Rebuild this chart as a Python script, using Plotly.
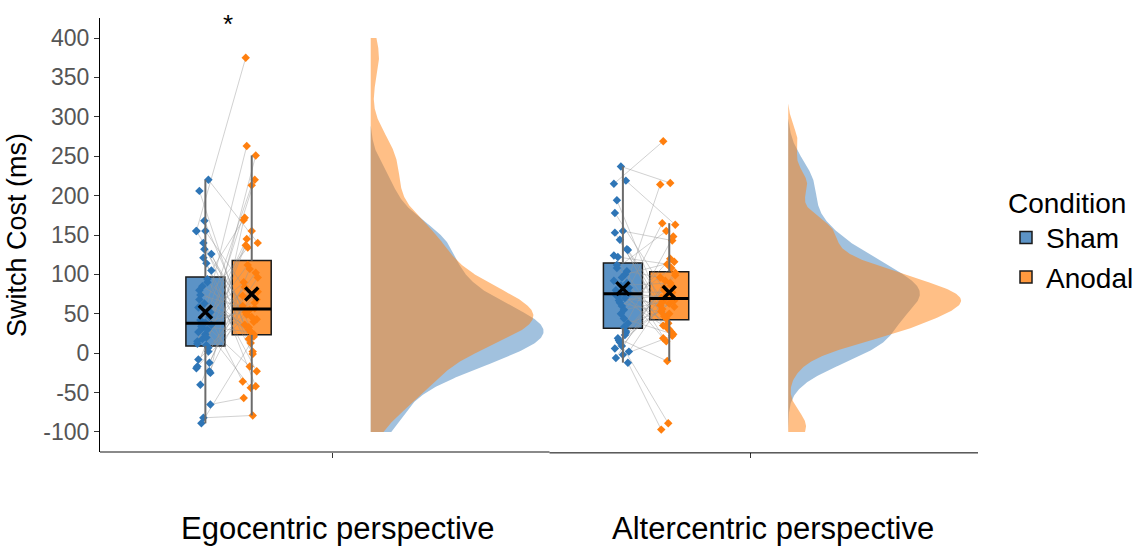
import numpy as np
import plotly.graph_objects as go

# ---------------- data (ms) ----------------
perspectives = ["Egocentric perspective", "Altercentric perspective"]
conditions = ["Sham", "Anodal"]

# participant order: index i of sham is paired with index i of anodal
ego_sham = [155, -82, -65, -89, 220, 206, 10, 12, 168, 105, 32, 46, -40, 94, 58, 24,
            155, 140, -25, 37, 2, 80, 114, 15, 63, 126, 18, -23, 42, 90, 27, 155,
            -19, 121, 52, 34, 7, 68, 20, -17, 132, 36, 85, -12, 74, 30, -8, 39]
ego_anodal = [375, -79, -57, 13, 140, 18, 251, 263, 21, 172, 213, -36, 107, -23, 134, 220,
              52, 2, 169, -44, 96, 30, -42, 145, 24, 36, 155, 60, -17, 43, 112, 64,
              137, -1, 90, 27, 78, 33, 102, 49, 40, 84, 46, 73, 55, 68, 54, 57]
alt_sham = [215, 237, -12, 16, 219, 194, 33, 178, 60, 2, 144, 89, 122, 70, -6, 155,
            92, 50, 131, 75, 26, 108, 44, 153, 9, 83, 64, 132, 19, 100, 74, -2,
            124, 86, 38, 67, 28, 112, 55, 6, 96, 76, 14, 104, 72, 23, 80, 78]
alt_anodal = [269, 216, -97, -89, 163, 44, 148, 80, 108, 65, 30, 214, 113, 59, 92, 143,
              19, 120, 70, 38, 99, 155, 24, 47, 86, 165, 50, 61, -10, 116, 72, 22,
              35, 89, 53, 74, 102, 15, 68, 83, 27, 56, 63, 96, 32, 67, 69, 77]

y_ticks = [-100, -50, 0, 50, 100, 150, 200, 250, 300, 350, 400]
significance = "*"

# ---------------- styling ----------------
X0, X1 = 0.4426, 2.5455              # x-axis range
PLOT_W = 878                          # plot-area width in px
PX = (X1 - X0) / PLOT_W               # x-units per pixel
centers = [1.0, 2.0]
off = {"Sham": -0.305, "Anodal": -0.194}
dens_off = 0.091
box_w = 0.0933
pt_col = {"Sham": "#2e75b6", "Anodal": "#ff7f0e"}
box_fill = {"Sham": "rgba(46,117,182,0.78)", "Anodal": "rgba(255,127,14,0.80)"}
dens_fill = {"Sham": "rgba(46,117,182,0.45)", "Anodal": "rgba(255,127,14,0.50)"}
FONT = "Liberation Sans, Arial, sans-serif"

data = {
    perspectives[0]: {"Sham": ego_sham, "Anodal": ego_anodal},
    perspectives[1]: {"Sham": alt_sham, "Anodal": alt_anodal},
}

grid = np.linspace(-100, 400, 501)


def kde(v):
    v = np.asarray(v, float)
    n = len(v)
    q1, q3 = np.percentile(v, [25, 75])
    h = 0.9 * min(v.std(ddof=1), (q3 - q1) / 1.34) * n ** (-0.2)
    z = (grid[:, None] - v[None, :]) / h
    return np.exp(-0.5 * z ** 2).sum(axis=1) / (n * h * np.sqrt(2 * np.pi))


fig = go.Figure()

for pi, p in enumerate(perspectives):
    cx = centers[pi]
    base = cx + dens_off
    dens = {c: kde(data[p][c]) for c in conditions}
    dmax = max(d.max() for d in dens.values())
    S = 0.414 / dmax                       # panel-wise width scaling
    # half densities
    for c in conditions:
        d = np.where(dens[c] >= 0.004 * dmax, dens[c], 0.0) * S
        xs = np.concatenate([[base], base + d, [base]])
        ys = np.concatenate([[grid[0]], grid, [grid[-1]]])
        fig.add_trace(go.Scatter(x=xs, y=ys, mode="lines", fill="toself",
                                 fillcolor=dens_fill[c], line=dict(width=0),
                                 showlegend=False, hoverinfo="skip"))
    # jittered positions
    pos = {}
    for c in conditions:
        n = len(data[p][c])
        jit = np.array([((i * 7 + (3 if c == "Anodal" else 0)) % 16 - 9) for i in range(n)]) * PX
        pos[c] = cx + off[c] + jit
    # paired lines
    lx, ly = [], []
    for i in range(len(data[p]["Sham"])):
        lx += [pos["Sham"][i], pos["Anodal"][i], None]
        ly += [data[p]["Sham"][i], data[p]["Anodal"][i], None]
    fig.add_trace(go.Scatter(x=lx, y=ly, mode="lines",
                             line=dict(color="rgba(150,150,150,0.55)", width=0.8),
                             showlegend=False, hoverinfo="skip"))
    # points
    for c in conditions:
        fig.add_trace(go.Scatter(x=pos[c], y=data[p][c], mode="markers",
                                 marker=dict(symbol="diamond", size=6.5, color=pt_col[c]),
                                 showlegend=False, hoverinfo="skip"))
    # boxes, whiskers, medians, means
    for c in conditions:
        v = np.asarray(data[p][c], float)
        q1, med, q3 = np.percentile(v, [25, 50, 75])
        iqr = q3 - q1
        lo = v[v >= q1 - 1.5 * iqr].min()
        hi = v[v <= q3 + 1.5 * iqr].max()
        bx = cx + off[c]
        fig.add_trace(go.Scatter(x=[bx, bx, None, bx, bx], y=[lo, q1, None, q3, hi],
                                 mode="lines", line=dict(color="#6b6b6b", width=2),
                                 showlegend=False, hoverinfo="skip"))
        fig.add_trace(go.Box(x=[bx], q1=[q1], median=[med], q3=[q3],
                             lowerfence=[q1], upperfence=[q3], width=box_w,
                             fillcolor=box_fill[c], line=dict(color="#1a1a1a", width=1.5),
                             whiskerwidth=0, name=c, legendgroup=c,
                             showlegend=(pi == 0), hoverinfo="skip"))
        fig.add_trace(go.Scatter(x=[bx - box_w / 2, bx + box_w / 2], y=[med, med],
                                 mode="lines", line=dict(color="black", width=3),
                                 showlegend=False, hoverinfo="skip"))
        fig.add_trace(go.Scatter(x=[bx], y=[v.mean()], mode="markers",
                                 marker=dict(symbol="x-thin", size=13,
                                             line=dict(color="black", width=3.5)),
                                 showlegend=False, hoverinfo="skip"))

# category labels under the axis
for pi, p in enumerate(perspectives):
    fig.add_annotation(x=centers[pi] + (5 if pi == 0 else 23) * PX, y=-0.176,
                       xref="x", yref="paper", text=p, showarrow=False,
                       font=dict(family=FONT, size=31, color="black"),
                       xanchor="center", yanchor="middle")

# significance star
fig.add_annotation(x=centers[0] - 105 * PX, y=418, xref="x", yref="y",
                   text=significance, showarrow=False,
                   font=dict(family=FONT, size=26, color="black"))

# x axis baseline (two panels)
fig.add_shape(type="line", xref="paper", yref="paper", x0=0, x1=0.512, y0=0, y1=0,
              line=dict(color="#8a8a8a", width=2))
fig.add_shape(type="line", xref="paper", yref="paper", x0=0.512, x1=1, y0=-0.002, y1=-0.002,
              line=dict(color="black", width=1))

fig.update_layout(
    width=1139, height=546,
    margin=dict(l=100, r=1139 - 100 - PLOT_W, t=18, b=94),
    paper_bgcolor="white", plot_bgcolor="white",
    showlegend=True,
    legend=dict(title=dict(text="Condition", font=dict(family=FONT, size=28, color="black")),
                font=dict(family=FONT, size=28, color="black"),
                xref="container", x=1.0, xanchor="right",
                y=0.635, yanchor="top",
                bgcolor="rgba(0,0,0,0)", tracegroupgap=0),
    font=dict(family=FONT),
)
fig.update_xaxes(range=[X0, X1], tickvals=centers, ticktext=["", ""],
                 ticks="outside", ticklen=5, tickcolor="#333", showgrid=False,
                 zeroline=False, showline=False)
fig.update_yaxes(range=[-125.4, 425.4], tickvals=y_ticks,
                 ticktext=[str(t) for t in y_ticks],
                 ticks="outside", ticklen=5, tickcolor="#333", showgrid=False,
                 zeroline=False, showline=True, linecolor="black", linewidth=1,
                 tickfont=dict(family=FONT, size=23, color="#555555"),
                 title=dict(text="Switch Cost (ms)", standoff=8,
                            font=dict(family=FONT, size=27, color="black")))

# remove the default page margin so the figure sits at the window's top-left corner
fig.write_html("out.html", config={"displayModeBar": False},
               post_script="document.body.style.margin='0px';"
                           "document.documentElement.style.overflow='hidden';")
